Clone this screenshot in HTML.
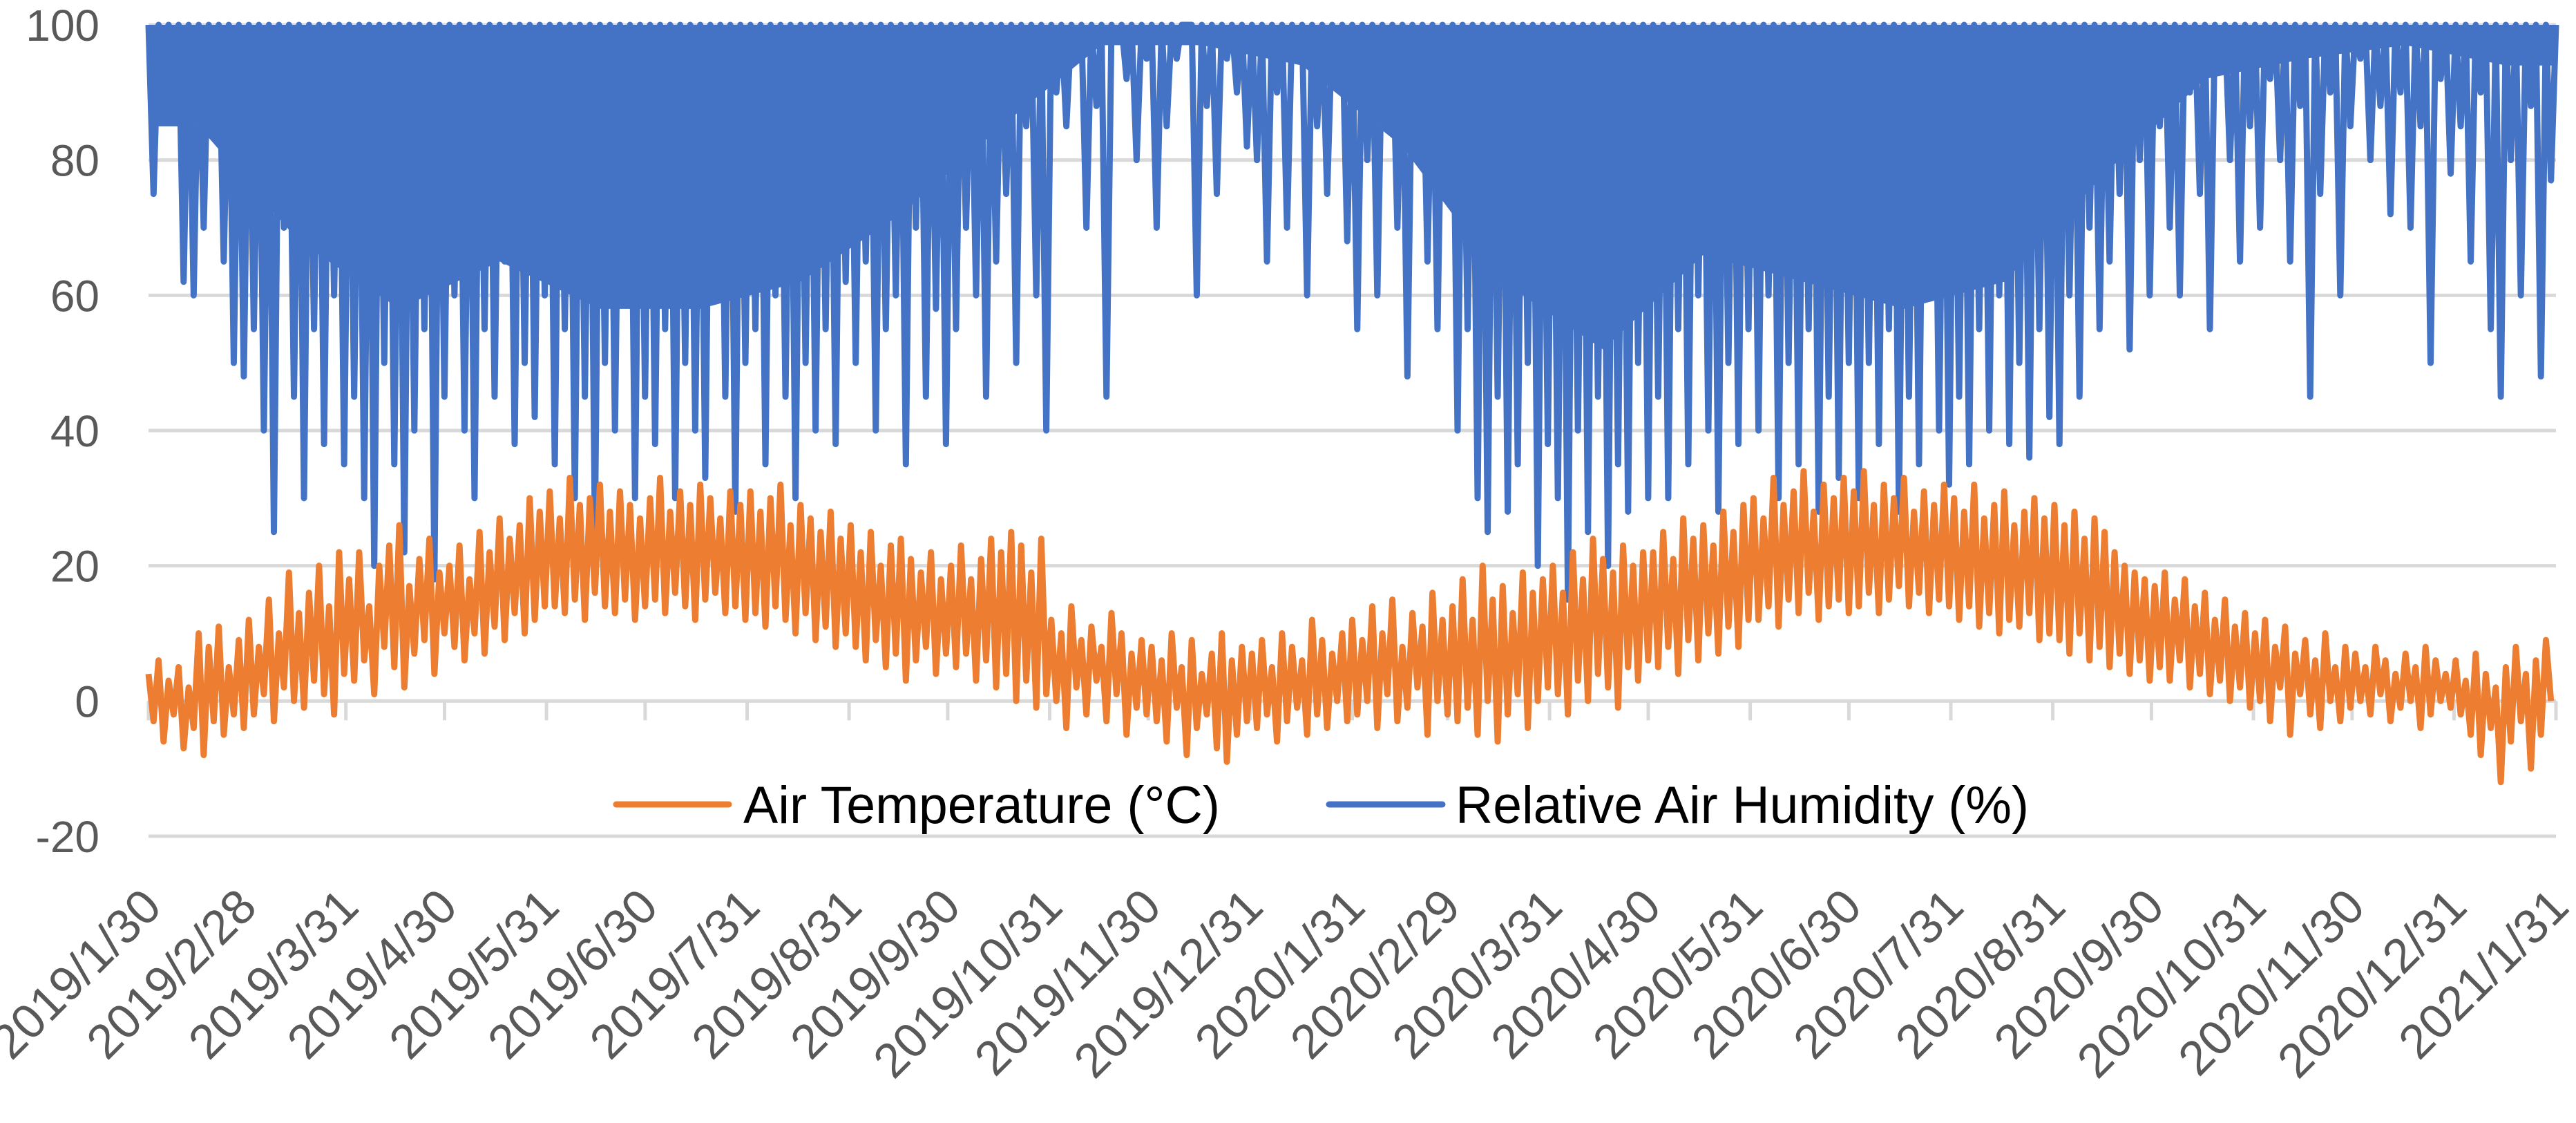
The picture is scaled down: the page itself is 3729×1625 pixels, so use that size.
<!DOCTYPE html>
<html><head><meta charset="utf-8"><style>
html,body{margin:0;padding:0;background:#fff;}
svg{display:block;font-family:"Liberation Sans",sans-serif;}
</style></head><body>
<svg id="chart" width="3729" height="1625" viewBox="0 0 3729 1625" xmlns="http://www.w3.org/2000/svg">
<g id="grid"></g>
<g id="yticks"></g>
<g id="xticks"></g>
<g id="series"></g>
<g>
  <g>
    <line x1="892" y1="1164" x2="1055" y2="1164" stroke="#ED7D31" stroke-width="9" stroke-linecap="round"/>
    <text x="1076" y="1191" font-size="76" fill="#000" textLength="690" lengthAdjust="spacingAndGlyphs">Air Temperature (°C)</text>
  </g>
  <g>
    <line x1="1924" y1="1164" x2="2088" y2="1164" stroke="#4472C4" stroke-width="9" stroke-linecap="round"/>
    <text x="2107" y="1191" font-size="76" fill="#000" textLength="830" lengthAdjust="spacingAndGlyphs">Relative Air Humidity (%)</text>
  </g>
</g>
</svg>
<script>
const yTicks = [100, 80, 60, 40, 20, 0, -20];
const xLabels = ["2019/1/30","2019/2/28","2019/3/31","2019/4/30","2019/5/31","2019/6/30","2019/7/31","2019/8/31","2019/9/30","2019/10/31","2019/11/30","2019/12/31","2020/1/31","2020/2/29","2020/3/31","2020/4/30","2020/5/31","2020/6/30","2020/7/31","2020/8/31","2020/9/30","2020/10/31","2020/11/30","2020/12/31","2021/1/31"];
const humLow = [75,98,88,62,60,70,85,65,50,48, 55,40,25,70,45,30,55,38,60,35, 45,30,20,50,35,22,40,55,18,45, 60,40,30,55,45,65,38,50,42,60, 35,55,30,45,25,50,40,60,30,45, 38,55,30,50,40,33,60,45,28,50, 55,35,60,45,30,50,40,55,38,62, 50,65,40,55,60,35,70,45,58,38, 55,70,60,45,65,75,50,85,60,40, 90,85,95,70,88,45,98,92,80,95, 70,85,95,100,60,88,75,95,90,82, 80,65,90,70,95,60,85,75,92,68, 55,80,60,90,70,48,85,65,55,75, 40,55,30,25,45,28,35,50,20,38, 30,15,40,25,45,20,35,28,50,30, 45,30,55,35,60,40,28,50,38,55, 40,60,30,50,35,55,28,45,33,50, 30,50,38,55,28,45,35,60,40,32, 45,35,55,40,60,38,50,36,55,42, 38,60,45,70,55,65,75,52,80,60, 85,70,60,90,75,55,95,80,65,85, 70,92,80,65,88,45,75,90,60,85, 95,80,88,72,90,70,85,50,92,78, 85,65,90,55,45,80,60,88,48,77];
const humBand = [85,68,58,65,58,58,62,72,85,97,97,94,82,62,52,66,62,58,62,78,92,95,97,94];
const tempHigh = [4,6,3,5,2,10,8,11,5,9, 12,8,15,10,19,13,16,20,14,22, 18,22,14,20,23,26,17,21,24,19, 20,23,18,25,22,27,24,26,30,28, 31,27,33,29,30,32,28,31,29,27, 30,33,28,31,29,32,30,27,31,29, 31,28,30,32,26,29,27,25,28,24, 26,22,25,20,23,24,21,19,22,18, 20,23,18,21,24,22,25,23,19,24, 12,10,14,9,11,8,13,10,7,9, 8,6,10,5,9,4,7,10,6,8, 7,9,5,10,8,6,12,9,7,10, 12,9,14,10,15,8,13,11,16,12, 14,18,12,20,15,17,13,19,16,18, 20,16,22,18,24,21,19,23,20,22, 22,25,21,27,24,26,23,28,25,29, 30,27,33,29,31,34,28,32,30,33, 31,34,29,32,30,33,28,31,29,32, 30,28,32,27,29,31,26,28,30,27, 29,26,28,24,27,25,22,20,19,18, 17,19,15,18,14,16,12,15,11,13, 10,12,8,11,7,9,6,10,5,8, 7,5,8,6,4,7,5,8,6,4, 6,3,7,4,2,5,8,4,6,9];
const tempLow = [-3,-6,-2,-7,-4,-8,-3,-5,-2,-4, -2,1,-3,2,0,-1,3,1,-2,4, 3,6,1,8,5,2,7,9,4,10, 8,6,10,7,11,9,13,10,12,14, 14,13,15,12,16,14,13,15,12,14, 15,13,16,14,12,15,16,13,14,12, 13,11,14,12,10,13,9,11,8,10, 8,6,9,5,7,3,6,8,4,7, 5,7,3,6,2,4,0,3,-1,1, 0,-4,2,-2,3,-3,1,-5,-1,-2, -3,-6,-1,-8,-4,-2,-7,-9,-5,-3, -4,-2,-6,-3,-1,-5,-2,-4,0,-3, -2,0,-4,1,-3,-1,2,-5,0,-2, -3,-1,-5,0,-6,-2,1,-4,0,2, 1,-2,3,0,4,2,-1,5,3,6, 5,8,4,9,6,10,7,11,8,12, 12,14,11,15,13,16,12,14,15,13, 14,16,13,15,17,14,16,13,15,14, 12,14,11,13,10,12,11,13,9,10, 9,7,10,6,8,5,7,4,6,3, 5,3,6,2,4,1,3,0,2,-1, 0,-3,2,-5,1,-2,-4,0,-3,-1, 0,-2,1,-3,-1,0,-4,-2,0,-1, -2,-5,-8,-4,-12,-6,-3,-10,-5,0];

const NS = "http://www.w3.org/2000/svg";
const X0 = 215, X1 = 3700, Y100 = 36, Ym20 = 1210;
const dayOf = s => { const p = s.split("/").map(Number); return Date.UTC(p[0], p[1]-1, p[2]) / 86400000; };
const D0 = dayOf(xLabels[0]), D1 = dayOf(xLabels[xLabels.length-1]);
const xScale = d => X0 + (d - D0) / (D1 - D0) * (X1 - X0);
const xFrac = f => X0 + f * (X1 - X0);
const yScale = v => Y100 + (100 - v) / 120 * (Ym20 - Y100);
function mk(tag, attrs, parent) { const e = document.createElementNS(NS, tag); for (const k in attrs) e.setAttribute(k, attrs[k]); parent.appendChild(e); return e; }

const grid = document.getElementById("grid"), yt = document.getElementById("yticks"), xt = document.getElementById("xticks"), series = document.getElementById("series");
yTicks.forEach(v => {
  const y = yScale(v);
  const l = mk("line", {x1: X0, x2: X1, y1: y, y2: y, stroke: "#D9D9D9", "stroke-width": 5}, grid);
  
  
  const t = mk("text", {x: 144, y: y + 23, "font-size": 64, fill: "#595959", "text-anchor": "end"}, yt);
  t.textContent = v;
  
  
});
xLabels.forEach(s => {
  const x = xScale(dayOf(s));
  const tk = mk("line", {x1: x, x2: x, y1: yScale(0), y2: yScale(0) + 28, stroke: "#D9D9D9", "stroke-width": 5}, grid);
  
  
  const ax = x + 22, ay = 1316;
  const t = mk("text", {x: ax, y: ay, "font-size": 70, fill: "#595959", "text-anchor": "end", transform: `rotate(-45 ${ax} ${ay})`}, xt);
  t.textContent = s;
  
  
});

// humidity solid band (smooth envelope through monthly centers)
let bp = `M${X0},${yScale(100)} L${X0},${yScale(humBand[0])}`;
humBand.forEach((v, i) => {
  bp += ` L${xFrac((i + 0.5) / humBand.length)},${yScale(v)}`;
});
bp += ` L${X1},${yScale(humBand[humBand.length-1])} L${X1},${yScale(100)} Z`;
const band = mk("path", {d: bp, fill: "#4472C4"}, series);



// humidity spikes
let hp = "";
const nh = humLow.length, stepH = 1 / nh;
humLow.forEach((v, i) => {
  const xa = xFrac(i * stepH), xb = xFrac((i + 0.5) * stepH);
  hp += (i ? " L" : "M") + xa + "," + yScale(100) + " L" + xb + "," + yScale(v);
});
hp += " L" + X1 + "," + yScale(100);
const hl = mk("path", {d: hp, fill: "none", stroke: "#4472C4", "stroke-width": 9, "stroke-linejoin": "round"}, series);



// temperature
let tp = "";
const nt = tempHigh.length, stepT = 1 / nt;
tempHigh.forEach((v, i) => {
  const xa = xFrac(i * stepT), xb = xFrac((i + 0.5) * stepT);
  tp += (i ? " L" : "M") + xa + "," + yScale(v) + " L" + xb + "," + yScale(tempLow[i]);
});
const tl = mk("path", {d: tp, fill: "none", stroke: "#ED7D31", "stroke-width": 9, "stroke-linejoin": "round"}, series);


</script>
</body></html>
